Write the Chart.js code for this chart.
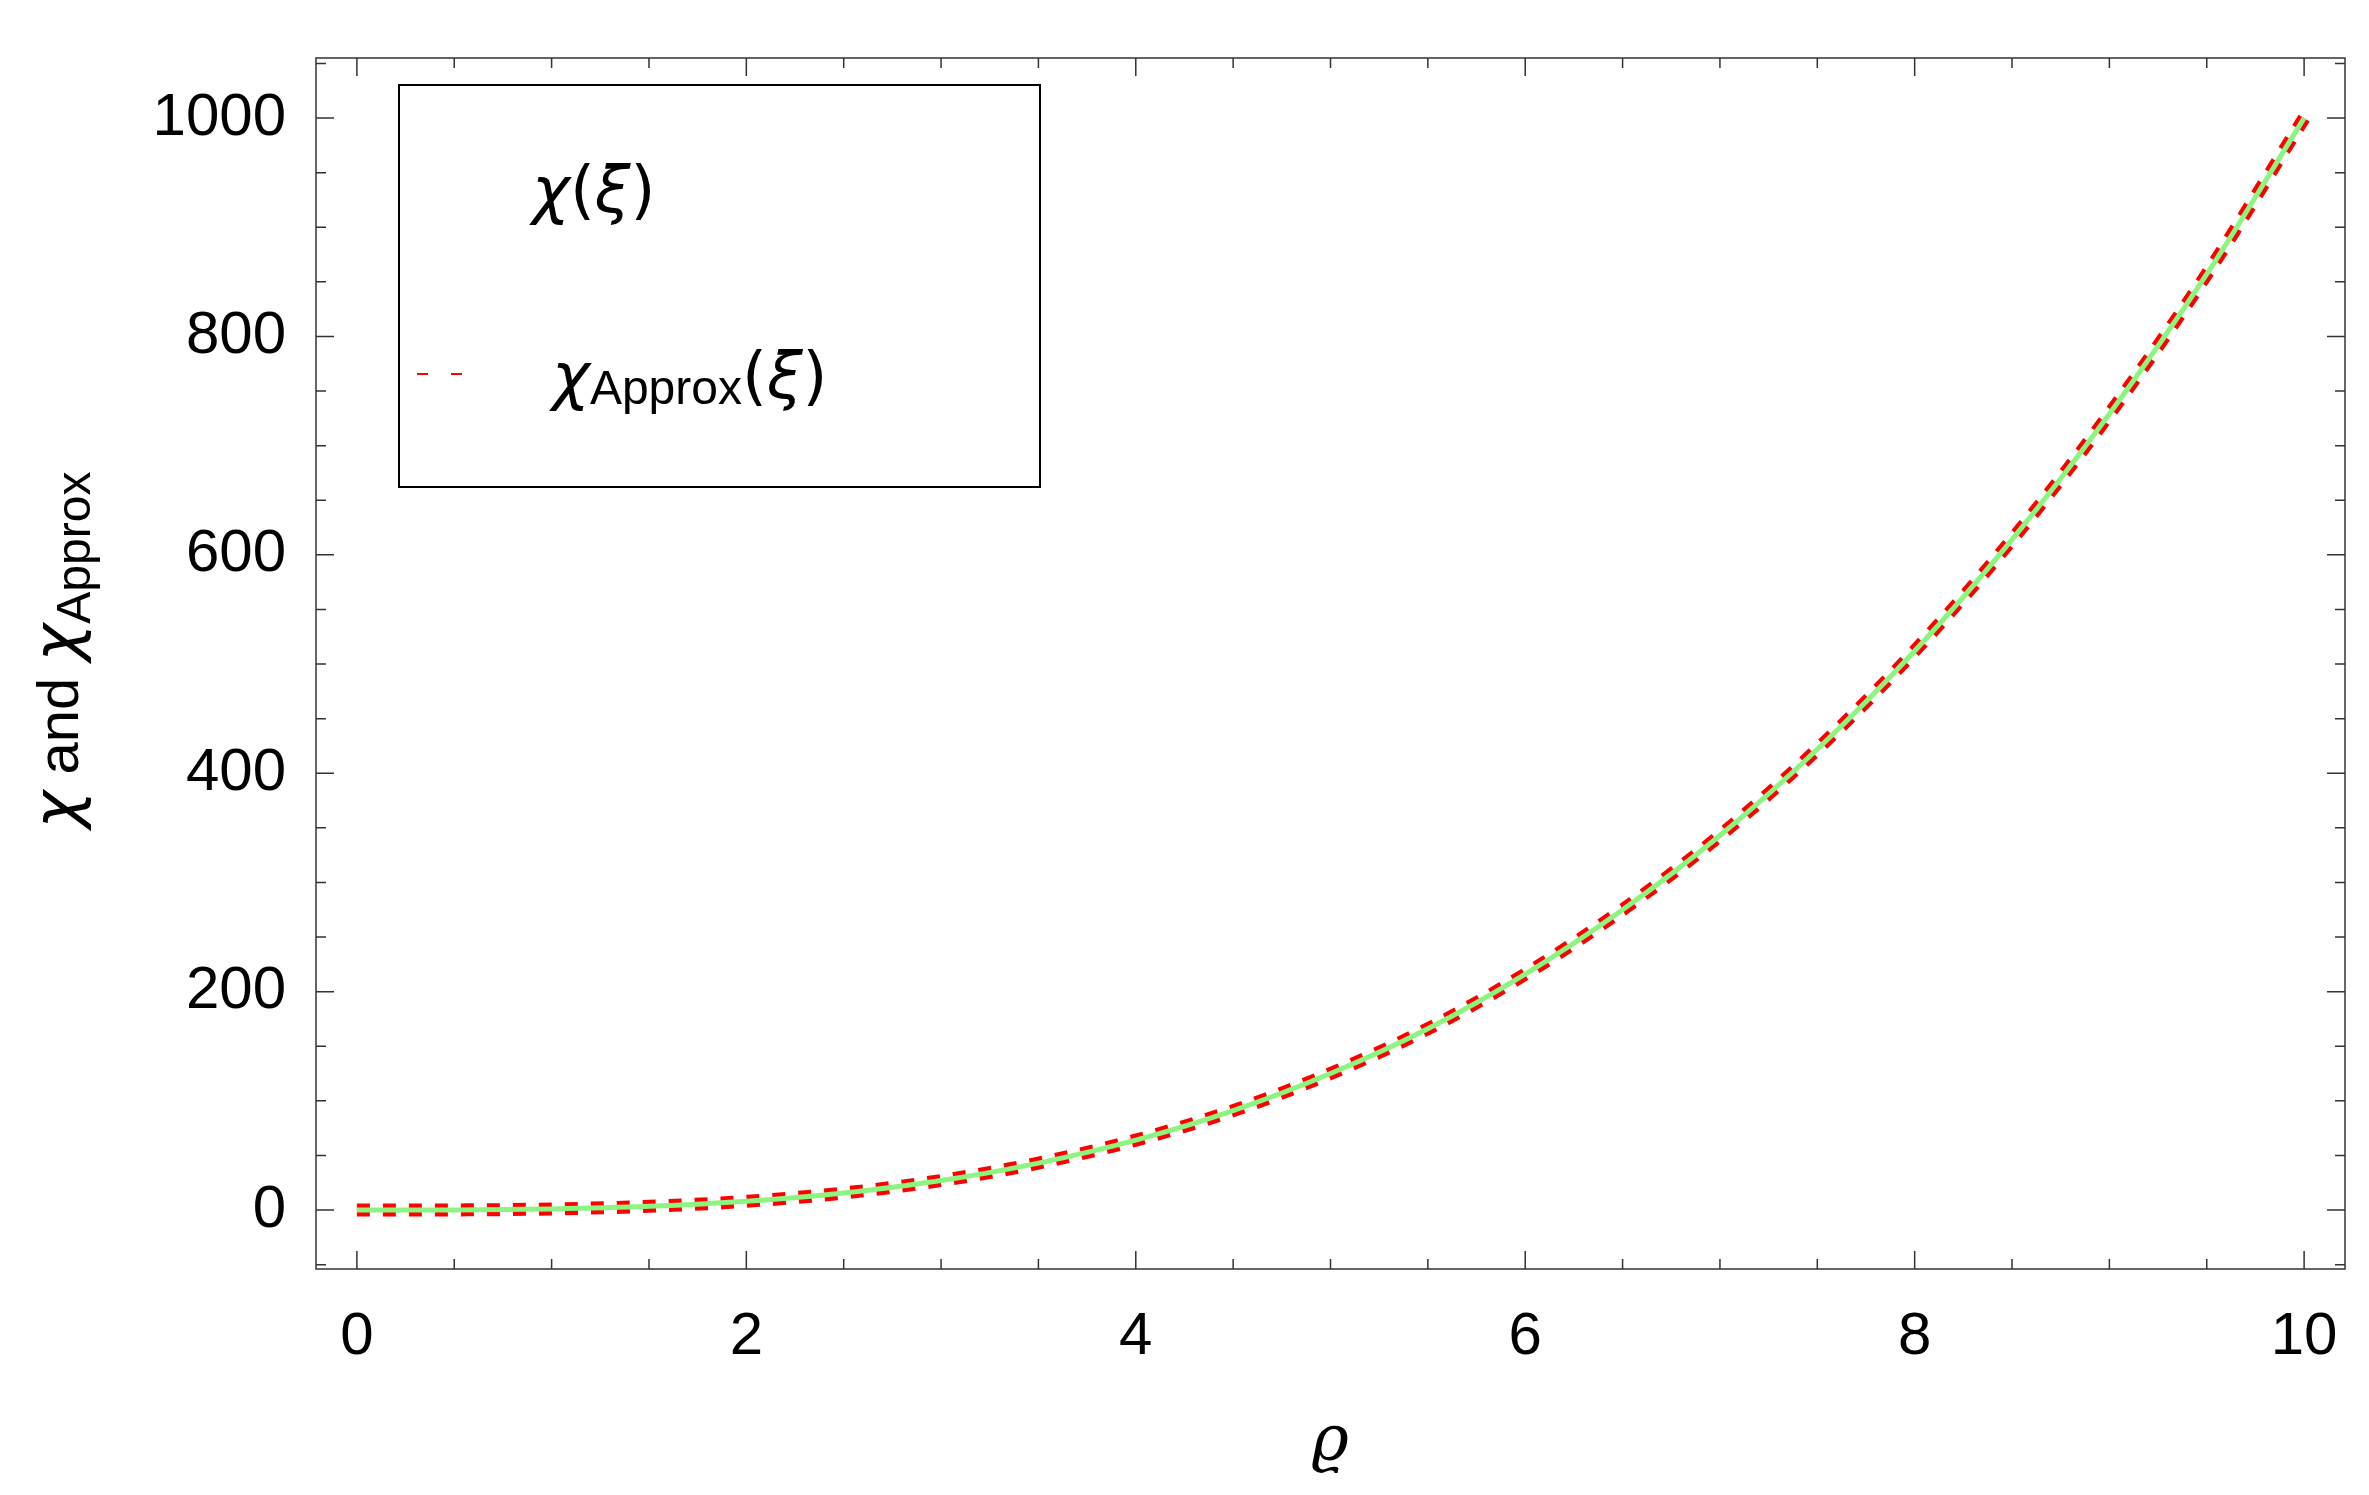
<!DOCTYPE html>
<html>
<head>
<meta charset="utf-8">
<style>
  html, body { margin: 0; padding: 0; background: #fff; }
  #wrap { width: 2369px; height: 1495px; }
</style>
<script src="https://cdn.jsdelivr.net/npm/chart.js@4/dist/chart.umd.min.js"></script>
</head>
<body>
<div id="wrap"><canvas id="chiChart" width="2369" height="1495"></canvas></div>
<script>
/* Data */
var rhoValues = [0, 0.5, 1, 1.5, 2, 2.5, 3, 3.5, 4, 4.5, 5, 5.5, 6, 6.5, 7, 7.5, 8, 8.5, 9, 9.5, 10];
var chiValues = [0, 0.1, 1, 3.4, 8, 15.6, 27, 43, 64, 91, 125, 166, 216, 275, 343, 422, 512, 614, 729, 857, 1000];
var chiApproxValues = [0, 0.1, 1, 3.4, 8, 15.6, 27, 43, 64, 91, 125, 166, 216, 275, 343, 422, 512, 614, 729, 857, 1000];

var xMajorTicks = [0, 2, 4, 6, 8, 10];
var yMajorTicks = [0, 200, 400, 600, 800, 1000];

var tickFont = { family: "Liberation Sans", size: 60 };

function pairs(xs, ys) {
	var out = [];
	for (var i = 0; i < xs.length; i++) {
		out.push({ x: xs[i], y: ys[i] });
	}
	return out;
}

/* mixed italic / upright text pieces */
function drawPieces(c, pieces, x, y) {
	for (var i = 0; i < pieces.length; i++) {
		c.font = pieces[i][1];
		c.fillText(pieces[i][0], x, y + (pieces[i][2] || 0));
		x += c.measureText(pieces[i][0]).width;
	}
}
function piecesWidth(c, pieces) {
	var w = 0;
	for (var i = 0; i < pieces.length; i++) {
		c.font = pieces[i][1];
		w += c.measureText(pieces[i][0]).width;
	}
	return w;
}

/* frame, inside ticks, titles and legend */
var framePlugin = {
	id: "framePlugin",
	afterDraw: function (chart) {
		var c = chart.ctx;
		var a = chart.chartArea;
		var xs = chart.scales.x;
		var ys = chart.scales.y;
		c.save();
		c.strokeStyle = "#333";
		c.lineWidth = 1.5;
		c.strokeRect(a.left, a.top, a.right - a.left, a.bottom - a.top);

		c.beginPath();
		for (var v = 0; v <= 10.001; v += 0.5) {
			var px = xs.getPixelForValue(v);
			var len = (Math.abs(v % 2) < 0.001) ? 18 : 10;
			c.moveTo(px, a.bottom); c.lineTo(px, a.bottom - len);
			c.moveTo(px, a.top); c.lineTo(px, a.top + len);
		}
		for (var w = -50; w <= 1050; w += 50) {
			var py = ys.getPixelForValue(w);
			var len2 = (w % 200 === 0) ? 18 : 10;
			c.moveTo(a.left, py); c.lineTo(a.left + len2, py);
			c.moveTo(a.right, py); c.lineTo(a.right - len2, py);
		}
		c.stroke();

		var ital = "italic 64px 'DejaVu Sans'";
		var up = "58px 'Liberation Sans'";
		var sub = "48px 'Liberation Sans'";
		var paren = "64px 'DejaVu Sans'";

		// x title
		c.fillStyle = "#000";
		c.textAlign = "left";
		c.textBaseline = "alphabetic";
		c.font = "italic 64px 'DejaVu Serif'";
		c.textAlign = "center";
		c.fillText("ϱ", 1330, 1460);
		c.textAlign = "left";

		// y title, rotated
		c.save();
		c.translate(78, 650);
		c.rotate(-Math.PI / 2);
		var yt = [["χ", ital], [" and ", up], ["χ", ital], ["Approx", sub, 12]];
		drawPieces(c, yt, -piecesWidth(c, yt) / 2, 0);
		c.restore();

		// legend
		c.fillStyle = "#fff";
		c.fillRect(399, 85, 641, 402);
		c.strokeStyle = "#000";
		c.lineWidth = 2;
		c.strokeRect(399, 85, 641, 402);
		c.strokeStyle = "#ff0000";
		c.lineWidth = 2;
		c.beginPath();
		c.moveTo(417, 374); c.lineTo(428, 374);
		c.moveTo(451, 374); c.lineTo(462, 374);
		c.stroke();
		c.fillStyle = "#000";
		drawPieces(c, [["χ", ital], ["(", paren], ["ξ", ital], [")", paren]], 532, 212);
		drawPieces(c, [["χ", ital], ["Approx", sub, 6], ["(", paren], ["ξ", ital], [")", paren]], 552, 398);
		c.restore();
	}
};

window.addEventListener("DOMContentLoaded", function () {
	var ctx = document.getElementById("chiChart").getContext("2d");
	new Chart(ctx, {
		type: "scatter",
		data: {
			datasets: [
				{
					label: "χ(ξ)",
					data: pairs(rhoValues, chiValues),
					showLine: true,
					borderColor: "#8cf57f",
					borderWidth: 5,
					pointRadius: 0,
					cubicInterpolationMode: "monotone"
				},
				{
					label: "χApprox(ξ)",
					data: pairs(rhoValues, chiApproxValues),
					showLine: true,
					borderColor: "#ff0000",
					borderWidth: 13,
					borderDash: [13, 13],
					borderCapStyle: "butt",
					borderJoinStyle: "miter",
					pointRadius: 0,
					cubicInterpolationMode: "monotone"
				}
			]
		},
		options: {
			responsive: false,
			devicePixelRatio: 1,
			animation: { duration: 0 },
			layout: { padding: { top: 0, right: 24, left: 0, bottom: 0 } },
			plugins: { legend: { display: false }, tooltip: { enabled: false } },
			scales: {
				x: {
					type: "linear",
					min: -0.21,
					max: 10.21,
					grid: { display: false },
					border: { display: false },
					afterBuildTicks: function (s) { s.ticks = xMajorTicks.map(function (v) { return { value: v }; }); },
					afterFit: function (s) { s.height = 226; },
					ticks: { font: tickFont, color: "#000", padding: 24, maxRotation: 0, callback: function (v) { return String(v); } }
				},
				y: {
					type: "linear",
					min: -54,
					max: 1055,
					grid: { display: false },
					border: { display: false },
					afterBuildTicks: function (s) { s.ticks = yMajorTicks.map(function (v) { return { value: v }; }); },
					afterFit: function (s) { s.width = 316; },
					ticks: { font: tickFont, color: "#000", padding: 22, callback: function (v) { return String(v); } }
				}
			}
		},
		plugins: [framePlugin]
	});
});
</script>
</body>
</html>
